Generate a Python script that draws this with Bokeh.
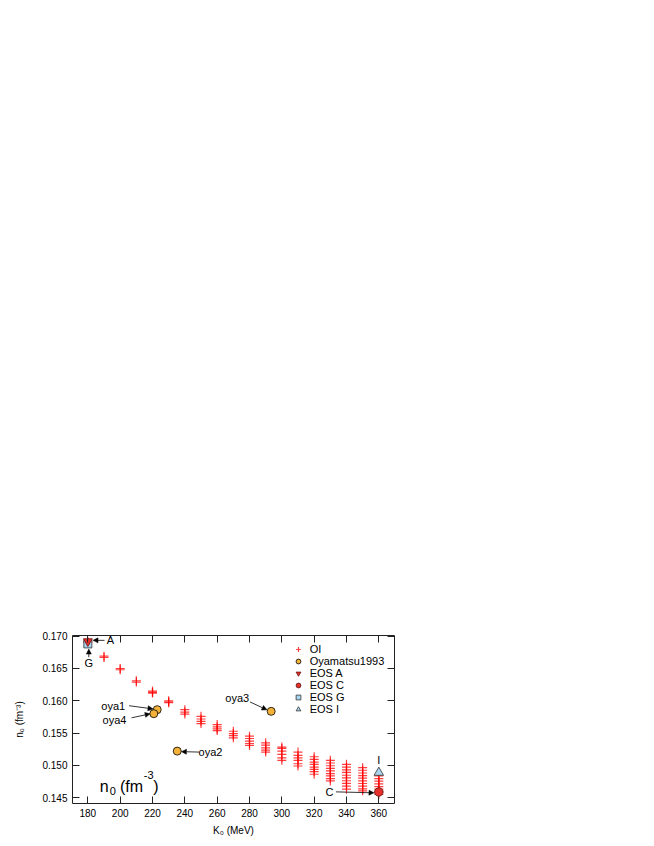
from bokeh.plotting import figure
from bokeh.models import (LinearAxis, FixedTicker, Range1d, Legend, LegendItem, Label,
                          Arrow, NormalHead, CustomJSTickFormatter, NumeralTickFormatter)
from bokeh.embed import file_html
from bokeh.resources import INLINE

FONT = "Liberation Sans"

# ---------------- data ----------------
oi_k0 = [180, 190, 200, 210, 220, 230, 240, 250, 260, 270, 280, 290, 300, 310, 320, 330, 340, 350, 360]
oi_n0 = [
    [0.1692, 0.1690],
    [0.1669, 0.1667],
    [0.1650, 0.1648],
    [0.1631, 0.1629],
    [0.1615, 0.1613, 0.1612],
    [0.1600, 0.1598, 0.1597],
    [0.15863, 0.15826, 0.15795],
    [0.15760, 0.15719, 0.15683, 0.15648],
    [0.15632, 0.15596, 0.15565, 0.15540],
    [0.15529, 0.15494, 0.15463, 0.15427],
    [0.15453, 0.15417, 0.15376, 0.15340, 0.15310],
    [0.15350, 0.15314, 0.15273, 0.15238, 0.15207],
    [0.15284, 0.15264, 0.15222, 0.15171, 0.15119, 0.15079],
    [0.15207, 0.15156, 0.15119, 0.15079, 0.15027, 0.14992],
    [0.15135, 0.15095, 0.15053, 0.15018, 0.14976, 0.14941, 0.14904, 0.14864],
    [0.15079, 0.15038, 0.14996, 0.14956, 0.14915, 0.14873, 0.14838, 0.14797, 0.14761],
    [0.15018, 0.14976, 0.14933, 0.14892, 0.14849, 0.14807, 0.14764, 0.14723, 0.14680, 0.14634],
    [0.14966, 0.14926, 0.14884, 0.14844, 0.14803, 0.14761, 0.14721, 0.14680, 0.14638, 0.14608],
    [0.14838, 0.14797, 0.14757, 0.14715, 0.14674, 0.14634, 0.14592, 0.14551],
]

oya_names = ["oya1", "oya2", "oya3", "oya4"]
oya_k0 = [222.9, 235.3, 293.4, 220.8]
oya_n0 = [0.15863, 0.15222, 0.15837, 0.15801]

eos_a_k0, eos_a_n0 = [180], [0.1692]
eos_c_k0, eos_c_n0 = [360], [0.1459]
eos_g_k0, eos_g_n0 = [180], [0.1688]
eos_i_k0, eos_i_n0 = [360], [0.1489]

x_ticks = [180, 200, 220, 240, 260, 280, 300, 320, 340, 360]
y_ticks = [0.145, 0.150, 0.155, 0.160, 0.165, 0.170]

# annotations: text, text x, text y, arrow start x, start y, end x, end y (None = no arrow)
annotations = [
    ("A", 194.0, 0.16939, 190.3, 0.16935, 183.2, 0.16935),
    ("G", 180.6, 0.16590, 180.6, 0.16674, 180.6, 0.16800),
    ("oya1", 195.7, 0.15914, 205.5, 0.15924, 220.3, 0.15875),
    ("oya4", 196.5, 0.15709, 207.0, 0.15737, 218.5, 0.15798),
    ("oya2", 255.9, 0.15207, 248.8, 0.15207, 237.9, 0.15214),
    ("oya3", 272.4, 0.16041, 280.3, 0.15983, 290.8, 0.15860),
    ("I", 360.0, 0.15079, None, None, None, None),
    ("C", 329.5, 0.14597, 333.5, 0.14592, 357.0, 0.14577),
]

# ---------------- figure ----------------
W, H = 408, 838
p = figure(width=W, height=H, output_backend="svg", toolbar_location=None,
           x_range=Range1d(170.5, 369.7), y_range=Range1d(0.14412, 0.1701),
           x_axis_label="K\u2080 (MeV)", y_axis_label="n\u2080 (fm\u207b\u00b3)")
p.min_border_left = 72
p.min_border_right = 14
p.min_border_top = 635
p.min_border_bottom = 35
p.grid.visible = False
p.outline_line_color = None
p.background_fill_color = "white"
p.border_fill_color = "white"

AX_COL = "#222222"

def style_axis(ax, labels=True):
    ax.axis_line_color = AX_COL
    ax.axis_line_width = 1
    ax.major_tick_line_color = AX_COL
    ax.major_tick_in = 7
    ax.major_tick_out = 0
    ax.minor_tick_line_color = None
    ax.major_label_text_font = FONT
    ax.major_label_text_font_size = "10px"
    ax.major_label_text_color = "black"
    ax.axis_label_text_font = FONT
    ax.axis_label_text_font_size = "10px"
    ax.axis_label_text_font_style = "normal"
    ax.axis_label_text_color = "black"
    if not labels:
        ax.formatter = CustomJSTickFormatter(code="return ''")
        ax.major_label_standoff = 0

for ax in p.xaxis:
    ax.ticker = FixedTicker(ticks=x_ticks)
    style_axis(ax)
    ax.major_label_standoff = 5
    ax.axis_label_standoff = 5
for ax in p.yaxis:
    ax.ticker = FixedTicker(ticks=y_ticks)
    ax.formatter = NumeralTickFormatter(format="0.000")
    style_axis(ax)
    ax.major_label_standoff = 5
    ax.axis_label_standoff = 14

top_ax = LinearAxis(ticker=FixedTicker(ticks=x_ticks))
style_axis(top_ax, labels=False)
p.add_layout(top_ax, "above")
right_ax = LinearAxis(ticker=FixedTicker(ticks=y_ticks))
style_axis(right_ax, labels=False)
p.add_layout(right_ax, "right")

# ---------------- glyphs ----------------
xs, ys = [], []
for k, vals in zip(oi_k0, oi_n0):
    for v in vals:
        xs.append(k)
        ys.append(v)
r_oi = p.scatter(xs, ys, marker="cross", size=9, line_color="#ff0000", line_width=1.2, line_alpha=0.75)

r_oya = p.scatter(oya_k0, oya_n0, marker="circle", size=8, fill_color="#f2b23a",
                  line_color="black", line_width=0.8)
r_g = p.scatter(eos_g_k0, eos_g_n0, marker="square", size=8, fill_color="#a9d6ee",
                line_color="#333333", line_width=0.8)
r_a = p.scatter(eos_a_k0, eos_a_n0, marker="inverted_triangle", size=9, fill_color="#e8302a",
                line_color="#6a1010", line_width=0.8)
r_i = p.scatter(eos_i_k0, eos_i_n0, marker="triangle", size=9.5, fill_color="#a9d6ee",
                line_color="#333333", line_width=0.8)
r_c = p.scatter(eos_c_k0, eos_c_n0, marker="circle", size=8.5, fill_color="#e8302a",
                line_color="#551010", line_width=0.8)

# ---------------- annotations ----------------
for txt, tx, ty, sx0, sy0, ex, ey in annotations:
    p.add_layout(Label(x=tx, y=ty, text=txt, text_align="center", text_baseline="middle",
                       text_font=FONT, text_font_size="11px", text_color="black"))
    if sx0 is not None:
        p.add_layout(Arrow(x_start=sx0, y_start=sy0, x_end=ex, y_end=ey,
                           line_color="black", line_width=0.8,
                           end=NormalHead(size=5, fill_color="black", line_color="black", line_width=0.5)))

# big in-plot label n0 (fm-3), screen units relative to frame
big = [("n", 27.3, 17.5, "16px"), ("0", 37.3, 13.0, "11px"), ("(fm", 47.5, 17.5, "16px"),
       ("-3", 71.3, 28.5, "11px"), (")", 80.8, 17.5, "16px")]
for t, bx, by, fs in big:
    p.add_layout(Label(x=bx, y=by, x_units="screen", y_units="screen", text=t,
                       text_align="left", text_baseline="alphabetic",
                       text_font=FONT, text_font_size=fs, text_color="black"))

# ---------------- legend ----------------
# location = bottom-left corner of the legend, measured from the frame's bottom-left
legend = Legend(items=[
    LegendItem(label="OI", renderers=[r_oi]),
    LegendItem(label="Oyamatsu1993", renderers=[r_oya]),
    LegendItem(label="EOS A", renderers=[r_a]),
    LegendItem(label="EOS C", renderers=[r_c]),
    LegendItem(label="EOS G", renderers=[r_g]),
    LegendItem(label="EOS I", renderers=[r_i]),
], location=(219.7, 88), padding=0, margin=0, spacing=0,
    glyph_width=12, glyph_height=12, label_height=11, label_standoff=6,
    label_text_font=FONT, label_text_font_size="11px", label_text_color="black",
    border_line_color=None, background_fill_alpha=0)
p.add_layout(legend, "center")

open("out.html", "w").write(file_html(p, INLINE))
